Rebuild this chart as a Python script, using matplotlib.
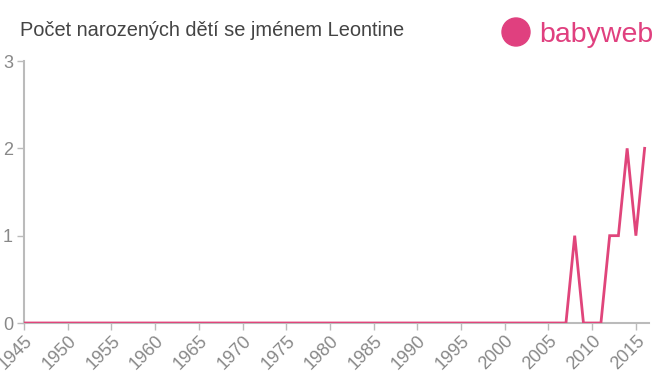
import matplotlib.pyplot as plt
from matplotlib.patches import Ellipse

plt.rcParams['font.family'] = ['Liberation Sans', 'DejaVu Sans']

years = list(range(1945, 2017))
counts = [0] * len(years)
nonzero = {2008: 1, 2012: 1, 2013: 1, 2014: 2, 2015: 1, 2016: 2}
for y, c in nonzero.items():
    counts[years.index(y)] = c

x_ticks = list(range(1945, 2016, 5))
y_ticks = [0, 1, 2, 3]

line_color = '#e0457b'
grey = '#bbbbbb'
label_grey = '#888888'

fig = plt.figure(figsize=(6.6, 3.75), dpi=100)
ax = fig.add_axes([24/660, 1 - 323/375, (649-24)/660, (323-61)/375])
ax.plot(years, counts, color=line_color, lw=2, solid_joinstyle='miter', zorder=3)
ax.set_xlim(1945, 2016.5)
ax.set_ylim(0, 3)
ax.set_xticks(x_ticks)
ax.set_xticklabels([str(t) for t in x_ticks], rotation=45, ha='right',
                   rotation_mode='anchor', fontsize=13, color=label_grey)
ax.set_yticks(y_ticks)
ax.set_yticklabels([str(t) for t in y_ticks], fontsize=13, color=label_grey)
ax.tick_params(axis='both', color=grey, length=5, width=1)
ax.tick_params(axis='x', pad=2)
ax.tick_params(axis='y', pad=3)
for s in ['top', 'right']:
    ax.spines[s].set_visible(False)
for s in ['left', 'bottom']:
    ax.spines[s].set_color(grey)
    ax.spines[s].set_linewidth(1.5)

fig.text(20/660, 1 - 31/375, 'Počet narozených dětí se jménem Leontine',
         fontsize=14.4, color='#444444', va='center', ha='left')

# logo
logo_color = '#e0407f'
circ = Ellipse((516/660, 1 - 32/375), 28/660, 28/375, transform=fig.transFigure,
               color=logo_color, zorder=5)
fig.patches.append(circ)
fig.text(539/660, 1 - 35/375, 'babyweb', fontsize=20.5, color=logo_color,
         va='center', ha='left')

fig.savefig('out.png', dpi=100)
